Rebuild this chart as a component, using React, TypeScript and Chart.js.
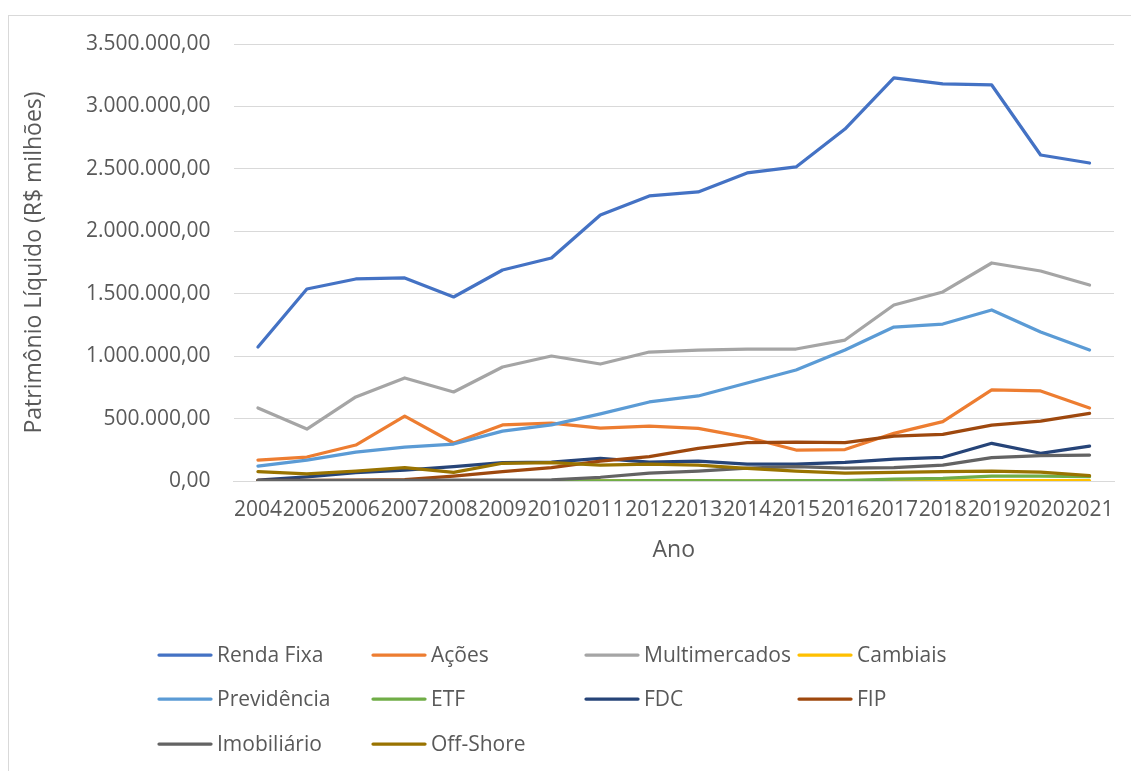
import React, { useEffect, useRef } from "react";
import { Chart, registerables } from "chart.js";

Chart.register(...registerables);

const years = ["2004","2005","2006","2007","2008","2009","2010","2011","2012","2013","2014","2015","2016","2017","2018","2019","2020","2021"];

const rendaFixa = [1073000, 1538000, 1618000, 1626000, 1474000, 1690000, 1786000, 2130000, 2283000, 2315000, 2467000, 2515000, 2819000, 3228000, 3180000, 3172000, 2611000, 2547000];
const acoes = [168000, 192000, 288000, 520000, 304000, 449000, 464000, 424000, 440000, 422000, 350000, 248000, 252000, 382000, 475000, 729000, 721000, 585000];
const multimercados = [585000, 416000, 673000, 825000, 713000, 913000, 1001000, 937000, 1033000, 1049000, 1057000, 1057000, 1129000, 1410000, 1514000, 1746000, 1682000, 1570000];
const cambiais = [4000, 3000, 2000, 1500, 1200, 1000, 1000, 900, 800, 800, 1000, 1500, 1500, 1500, 2000, 2500, 3000, 3000];
const previdencia = [120000, 168000, 232000, 272000, 296000, 400000, 449000, 537000, 633000, 681000, 785000, 889000, 1049000, 1233000, 1257000, 1370000, 1193000, 1049000];
const etf = [0, 0, 0, 0, 500, 800, 1000, 2000, 3000, 2500, 2000, 3000, 3500, 16000, 21000, 40000, 40000, 35000];
const fdc = [8000, 34000, 67000, 88000, 115000, 147000, 152000, 182000, 152000, 160000, 136000, 136000, 150000, 176000, 190000, 302000, 222000, 280000];
const fip = [5000, 6000, 8000, 12000, 40000, 75000, 107000, 160000, 195000, 262000, 307000, 312000, 307000, 360000, 374000, 448000, 480000, 542000];
const imobiliario = [3000, 4000, 5000, 6000, 7000, 8000, 10000, 30000, 64000, 80000, 104000, 115000, 104000, 107000, 128000, 187000, 203000, 208000];
const offShore = [75000, 58000, 80000, 107000, 69000, 142000, 147000, 128000, 136000, 128000, 101000, 80000, 64000, 69000, 75000, 80000, 72000, 43000];

const seriesNames = ["Renda Fixa", "Ações", "Multimercados", "Cambiais", "Previdência", "ETF", "FDC", "FIP", "Imobiliário", "Off-Shore"];
const seriesData = [rendaFixa, acoes, multimercados, cambiais, previdencia, etf, fdc, fip, imobiliario, offShore];
const seriesColors = ["#4472C4", "#ED7D31", "#A5A5A5", "#FFC000", "#5B9BD5", "#70AD47", "#264478", "#9E480E", "#636363", "#997300"];

const yTitle = "Patrimônio Líquido (R$ milhões)";
const xTitle = "Ano";

const FONT = "'Open Sans', 'DejaVu Sans', sans-serif";
const TEXT = "#595959";

function fmt(v: number): string {
  const int = Math.round(v).toString();
  const withDots = int.replace(/\B(?=(\d{3})+(?!\d))/g, ".");
  return withDots + ",00";
}

const legendPlugin = {
  id: "gridLegend",
  afterDraw(chart: any) {
    const ctx = chart.ctx;
    const colX = [150, 364, 577, 790];
    const rowY = [639, 683, 728];
    ctx.save();
    ctx.font = `21px ${FONT}`;
    ctx.textBaseline = "middle";
    ctx.textAlign = "left";
    seriesNames.forEach((name, i) => {
      const c = i % 4;
      const r = Math.floor(i / 4);
      const x = colX[c];
      const y = rowY[r];
      ctx.strokeStyle = seriesColors[i];
      ctx.lineWidth = 3.25;
      ctx.lineCap = "round";
      ctx.beginPath();
      ctx.moveTo(x, y);
      ctx.lineTo(x + 52, y);
      ctx.stroke();
      ctx.fillStyle = TEXT;
      ctx.fillText(name, x + 58, y + 1);
    });
    ctx.restore();
  },
};

export default function App() {
  const ref = useRef<HTMLCanvasElement | null>(null);
  useEffect(() => {
    if (!ref.current) return;
    const chart = new Chart(ref.current, {
      type: "line",
      data: {
        labels: years,
        datasets: seriesNames.map((name, i) => ({
          label: name,
          data: seriesData[i],
          borderColor: seriesColors[i],
          backgroundColor: seriesColors[i],
          borderWidth: 3.25,
          pointRadius: 0,
          tension: 0,
          fill: false,
          order: 20 - i,
          borderJoinStyle: "round" as const,
          borderCapStyle: "round" as const,
        })),
      },
      options: {
        animation: false,
        responsive: false,
        maintainAspectRatio: false,
        layout: { padding: { left: 0, right: 17, top: 28, bottom: 207 } },
        plugins: { legend: { display: false }, tooltip: { enabled: false } },
        scales: {
          x: {
            offset: true,
            grid: { display: false, drawTicks: false },
            border: { display: true, color: "#d9d9d9", width: 1 },
            ticks: { color: TEXT, font: { family: FONT, size: 21 }, padding: 16, autoSkip: false, maxRotation: 0, minRotation: 0 },
            title: { display: true, text: xTitle, color: TEXT, font: { family: FONT, size: 23 }, padding: { top: 15, bottom: 0 } },
            afterFit: (s: any) => { s.height = 83; s.paddingLeft = 0; s.paddingRight = 0; },
          },
          y: {
            min: 0,
            max: 3500000,
            grid: { color: "#d9d9d9", lineWidth: 1, drawTicks: false },
            border: { display: false },
            ticks: { stepSize: 500000, color: TEXT, font: { family: FONT, size: 21 }, padding: 23, callback: (v: any) => fmt(Number(v)) },
            title: { display: true, text: yTitle, color: TEXT, font: { family: FONT, size: 23 }, padding: { top: 12, bottom: 0 } },
            afterFit: (s: any) => { s.width = 224.5; s.paddingTop = 0; s.paddingBottom = 0; },
          },
        },
      },
      plugins: [legendPlugin],
    });
    return () => chart.destroy();
  }, []);
  return (
    <div style={{ position: "absolute", left: 8, top: 15, width: 1123, height: 756, overflow: "hidden", borderTop: "1px solid #d9d9d9", borderLeft: "1px solid #d9d9d9", boxSizing: "border-box", background: "#fff" }}>
      <canvas ref={ref} width={1122} height={755} style={{ display: "block" }} />
    </div>
  );
}
